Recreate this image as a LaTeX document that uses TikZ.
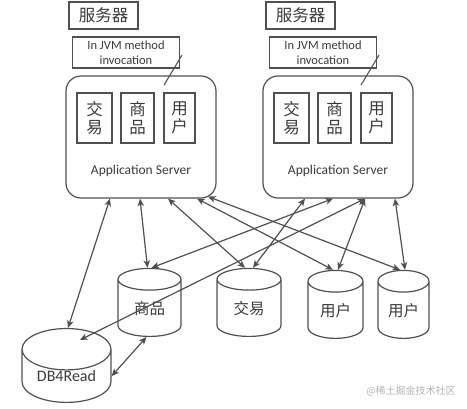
\documentclass[tikz,border=0pt]{standalone}
\usepackage{fontspec}
\setmainfont{Carlito}
\newfontfamily\cjk{Noto Sans CJK SC}
\usepackage{tikz}
\usetikzlibrary{arrows.meta,calc,positioning,shapes.geometric}
\definecolor{linegray}{HTML}{505050}
\definecolor{textgray}{HTML}{3A3A3A}
\definecolor{markgray}{HTML}{B4B4B4}

\tikzset{
    titlebox/.style={draw=linegray, line width=1.2pt, minimum width=69pt, minimum height=27pt,
        inner sep=0pt, text=textgray, font=\cjk\fontsize{16.5}{16}\selectfont},
    jvmbox/.style={draw=linegray, line width=1.1pt, minimum width=107pt, minimum height=31pt,
        inner sep=0pt, align=center, text=textgray, font=\fontsize{12.5}{15}\selectfont},
    appbox/.style={draw=linegray, line width=1.2pt, rounded corners=15pt, minimum width=150pt,
        minimum height=122pt, inner sep=0pt},
    modbox/.style={draw=linegray, line width=1.2pt, minimum height=50pt, inner sep=0pt,
        align=center, text=textgray, font=\cjk\fontsize{16.5}{18}\selectfont},
    dbcyl/.style={cylinder, shape border rotate=90, aspect=0.7, draw=linegray, line width=1.2pt,
        minimum height=68pt, inner sep=0pt, anchor=bottom, text=textgray, font=\cjk\fontsize{15.5}{15}\selectfont},
    dblink/.style={draw=linegray, line width=1.2pt, >={Stealth[length=7.5pt,width=6.5pt,inset=2pt]}, <->}
}

\begin{document}
\begin{tikzpicture}[x=1pt,y=-1pt]
    \useasboundingbox (0,0) rectangle (467,408);

    % two application servers
    \foreach \sx/\nm in {0/L,197/R} {
        \node[titlebox] (title\nm) at (103.5+\sx,15.5) {服务器};
        \node[jvmbox] (jvm\nm) at (126+\sx,52.5) {In JVM method\\invocation};
        \node[appbox] (svr\nm) at (141+\sx,137) {};
        \node[modbox, minimum width=35pt] (trade\nm) at (94.5+\sx,118) {交\\易};
        \node[modbox, minimum width=33pt] (goods\nm) at (137.5+\sx,118) {商\\品};
        \node[modbox, minimum width=31pt] (user\nm) at (179.5+\sx,118) {用\\户};
        \node[text=textgray, font=\fontsize{13.5}{14}\selectfont] (app\nm) at (141+\sx,171) {Application Server};
        \draw[linegray, line width=1.1pt] ($(jvm\nm.east)+(2,2.5)$) -- ++(-18,30);
    }

    % databases
    \node[dbcyl, minimum width=63pt] (dbGoods) at (149.5,337) {商品};
    \node[dbcyl, minimum width=64pt] (dbTrade) at (249,337) {交易};
    \node[dbcyl, minimum width=55pt] (dbUserA) at (335.5,339) {用户};
    \node[dbcyl, minimum width=51pt] (dbUserB) at (403.5,339) {用户};
    \node[dbcyl, minimum width=89pt, font=\fontsize{16}{16}\selectfont] (dbRead) at (66.5,403) {DB4Read};

    % left server links
    \draw[dblink] ($(svrL.south)+(-31,0)$) -- ($(dbRead.top)+(1.5,0)$);
    \draw[dblink] ($(svrL.south)+(-1,0)$) -- ($(dbGoods.top)+(-2,0)$);
    \draw[dblink] ($(svrL.south)+(27,0)$) -- ($(dbTrade.top)+(-4,0)$);
    \draw[dblink] ($(svrL.south)+(56,0)$) -- ($(dbUserA.top)+(-2.5,0)$);
    \draw[dblink] ($(svrL.south)+(67,-2)$) -- ($(dbUserB.top)+(-3.5,0)$);

    % right server links
    \draw[dblink] ($(svrR.south)+(-33,0)$) -- ($(dbTrade.top)+(4,0)$);
    \draw[dblink] ($(svrR.south)+(-5,0)$) -- ($(dbGoods.top)+(2,0)$);
    \draw[dblink] ($(svrR.south)+(27,0)$) -- ($(dbRead.top)+(13.5,12)$);
    \draw[dblink] ($(svrR.south)+(27,0)$) -- ($(dbUserA.top)+(2.5,0)$);
    \draw[dblink] ($(svrR.south)+(57,0)$) -- ($(dbUserB.top)+(1.5,0)$);

    \draw[dblink] ($(dbGoods.bottom)+(-3,0)$) -- (dbRead.east);

    \node[text=markgray, font=\cjk\fontsize{10}{10}\selectfont] (mark) at (411,391) {@稀土掘金技术社区};
\end{tikzpicture}
\end{document}
